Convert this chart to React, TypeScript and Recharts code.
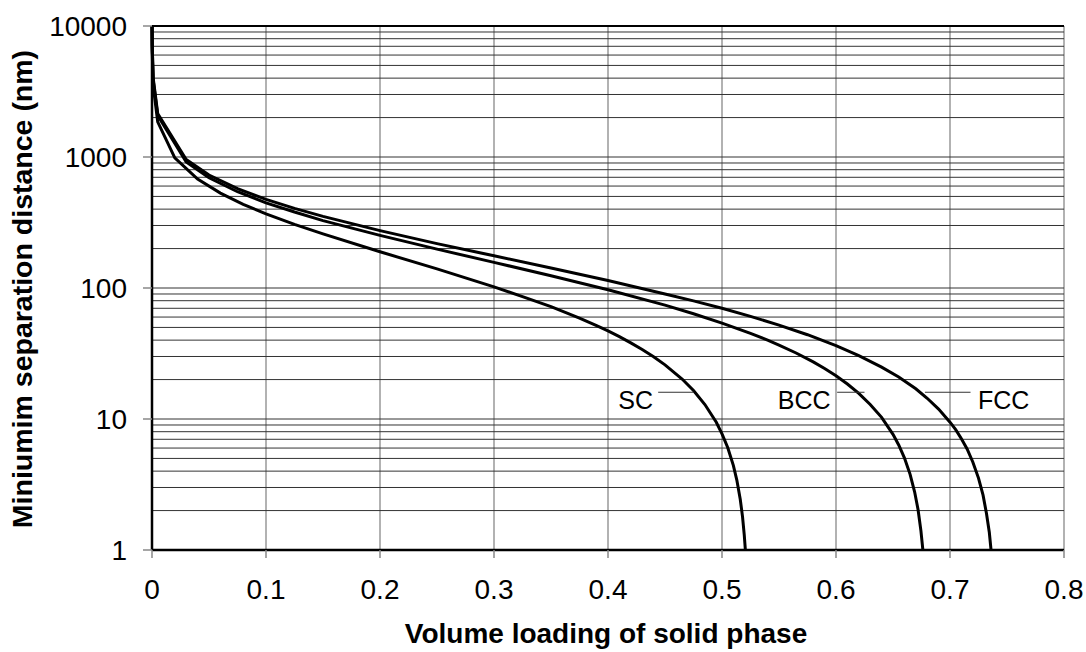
import React from 'react';
import { LineChart, Line, XAxis, YAxis, CartesianGrid, ReferenceLine, ReferenceDot, Label } from 'recharts';

const FONT = '"Liberation Sans", Arial, Helvetica, sans-serif';

// volume fraction (x) and minimum separation in nm (y)
const SC_PHI = [0.00005, 0.0002, 0.001, 0.005, 0.02, 0.04, 0.06, 0.08, 0.1, 0.125, 0.15, 0.2, 0.25, 0.3, 0.325, 0.35, 0.375, 0.39, 0.4, 0.41, 0.42, 0.43, 0.44, 0.45, 0.465, 0.475, 0.485, 0.495, 0.5, 0.505, 0.51, 0.513, 0.516, 0.518, 0.5195, 0.5205];
const SC_NM = [10000, 6390, 3529, 1856, 985, 678, 530, 435, 368, 306, 259, 189, 140, 102, 86, 72, 59, 51.6, 47, 42.5, 38.1, 33.9, 29.9, 25.9, 20.2, 16.5, 12.9, 9.45, 7.7, 6.06, 4.41, 3.42, 2.44, 1.8, 1.31, 1];

const BCC_PHI = [0.00005, 0.0002, 0.001, 0.005, 0.03, 0.05, 0.075, 0.1, 0.125, 0.15, 0.2, 0.25, 0.3, 0.35, 0.4, 0.45, 0.475, 0.5, 0.525, 0.54, 0.55, 0.565, 0.58, 0.59, 0.6, 0.61, 0.62, 0.63, 0.64, 0.65, 0.655, 0.66, 0.665, 0.669, 0.672, 0.6745, 0.6762];
const BCC_NM = [10000, 7020, 3897, 2072, 915, 694, 543, 447, 380, 327, 252, 198, 157, 124, 97, 74, 63.6, 54, 45.1, 40, 36.7, 31.9, 27.3, 24.3, 21.4, 18.5, 15.7, 12.9, 10.3, 7.63, 6.33, 5.05, 3.78, 2.77, 2.03, 1.4, 1];

const FCC_PHI = [0.00005, 0.0002, 0.001, 0.005, 0.03, 0.05, 0.075, 0.1, 0.125, 0.15, 0.2, 0.25, 0.3, 0.35, 0.4, 0.45, 0.475, 0.5, 0.525, 0.55, 0.575, 0.6, 0.62, 0.64, 0.655, 0.67, 0.68, 0.69, 0.7, 0.705, 0.71, 0.715, 0.72, 0.725, 0.729, 0.732, 0.7345, 0.736];
const FCC_NM = [10000, 7235, 4024, 2146, 956, 728, 573, 475, 405, 352, 274, 218, 176, 142, 114, 90, 79.8, 70, 60.7, 52.1, 44, 36.3, 30.5, 24.9, 20.9, 17, 14.4, 11.9, 9.46, 8.3, 7.06, 5.9, 4.7, 3.54, 2.62, 1.9, 1.36, 1];

const X_TICKS = [0, 0.1, 0.2, 0.3, 0.4, 0.5, 0.6, 0.7, 0.8];
const Y_TICKS = [1, 10, 100, 1000, 10000];

// curve labels with short leader lines (data coords)
const CURVE_NAMES = ['SC', 'BCC', 'FCC'];
const NAME_X = [0.409, 0.549, 0.7246];
const NAME_Y = 12;
const LEADER_X0 = [0.444, 0.601, 0.678];
const LEADER_X1 = [0.475, 0.625, 0.718];
const LEADER_Y = 16;

const toRows = (phi: number[], nm: number[]) => phi.map((p, i) => ({ phi: p, d: nm[i] }));
const scData = toRows(SC_PHI, SC_NM);
const bccData = toRows(BCC_PHI, BCC_NM);
const fccData = toRows(FCC_PHI, FCC_NM);

// log gridlines 1..9 in every decade
const GRID_Y: number[] = [];
for (let k = 0; k < 4; k++) {
  for (let m = 1; m < 10; m++) GRID_Y.push(m * Math.pow(10, k));
}
GRID_Y.push(10000);

const App: React.FC = () => {
  const tickStyle = { fill: '#000', fontSize: 28, fontFamily: FONT };

  return (
    <div style={{ position: 'absolute', left: 0, top: 0, background: '#fff' }}>
      <LineChart width={1086} height={652} margin={{ top: 26, right: 22, bottom: 0, left: 0 }}>
        <CartesianGrid horizontal={false} stroke="#999" strokeWidth={1.5} />
        {GRID_Y.map((v) => (
          <ReferenceLine key={v} y={v} stroke={v === 10000 ? '#000' : '#333'} strokeWidth={v === 10000 ? 2 : 1} />
        ))}
        <XAxis
          dataKey="phi"
          type="number"
          domain={[0, 0.8]}
          ticks={X_TICKS}
          tickFormatter={(v: number) => String(v)}
          height={102}
          tick={tickStyle}
          tickSize={8}
          tickMargin={21}
          tickLine={{ stroke: '#888', strokeWidth: 1.5 }}
          axisLine={{ stroke: '#000', strokeWidth: 2.5 }}
        >
          <Label
            content={() => (
              <text x={606} y={643} textAnchor="middle" fontFamily={FONT} fontWeight="bold" fontSize={28} fill="#000">
                Volume loading of solid phase
              </text>
            )}
          />
        </XAxis>
        <YAxis
          type="number"
          scale="log"
          domain={[1, 10000]}
          allowDataOverflow
          ticks={Y_TICKS}
          width={152}
          tick={tickStyle}
          tickSize={9}
          tickMargin={16}
          tickLine={{ stroke: '#888', strokeWidth: 1.5 }}
          axisLine={{ stroke: '#000', strokeWidth: 2.5 }}
        >
          <Label
            content={() => (
              <text
                x={32}
                y={289}
                transform="rotate(-90, 32, 289)"
                textAnchor="middle"
                fontFamily={FONT}
                fontWeight="bold"
                fontSize={28.5}
                fill="#000"
              >
                Miniumim separation distance (nm)
              </text>
            )}
          />
        </YAxis>

        <Line data={scData} dataKey="d" type="linear" stroke="#000" strokeWidth={3} dot={false} isAnimationActive={false} />
        <Line data={bccData} dataKey="d" type="linear" stroke="#000" strokeWidth={3} dot={false} isAnimationActive={false} />
        <Line data={fccData} dataKey="d" type="linear" stroke="#000" strokeWidth={3} dot={false} isAnimationActive={false} />

        {CURVE_NAMES.map((name, i) => (
          <ReferenceLine
            key={'l' + name}
            segment={[{ x: LEADER_X0[i], y: LEADER_Y }, { x: LEADER_X1[i], y: LEADER_Y }]}
            stroke="#333"
            strokeWidth={1}
          />
        ))}
        {CURVE_NAMES.map((name, i) => (
          <ReferenceDot
            key={'t' + name}
            x={NAME_X[i]}
            y={NAME_Y}
            r={0}
            shape={(p: any) => (
              <text x={p.cx} y={p.cy} fontFamily={FONT} fontSize={25} fill="#000">
                {name}
              </text>
            )}
          />
        ))}
      </LineChart>
    </div>
  );
};

export default App;
